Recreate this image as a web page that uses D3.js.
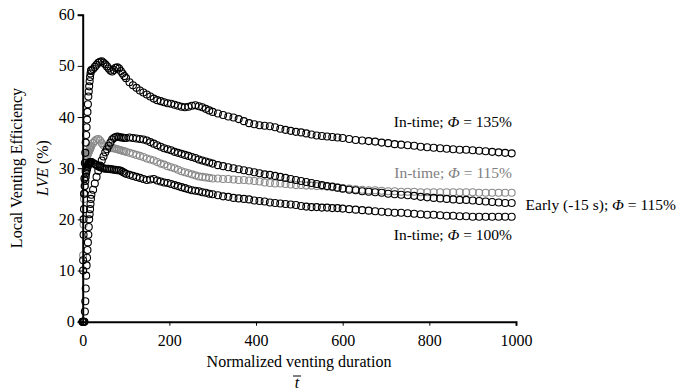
<!DOCTYPE html>
<html>
<head>
<meta charset="utf-8">
<script src="https://cdn.jsdelivr.net/npm/d3@7"></script>
<style>
  body { margin: 0; background: #fff; }
  text { font-family: "Liberation Serif", "Times New Roman", serif; }
</style>
</head>
<body>
<svg id="chart" width="678" height="392"></svg>
<script>
// normalized time of each sample (shared by all series)
const tGrid = [0,1,2,3,4,5,6,7,8,9,10,11,12,13,14,15,16,17,18,19,20,
  24,28,32,36,40,44,48,52,56,60,64,68,72,76,80,84,88,92,96,100,
  108,116,124,132,140,148,156,164,172,180,188,196,204,212,220,228,236,244,252,260,268,276,284,292,300,
  312,324,336,348,360,372,384,396,408,420,432,444,456,468,480,492,504,516,528,540,552,564,576,588,600,
  615,630,645,660,675,690,705,720,735,750,765,780,795,810,825,840,855,870,885,900,915,930,945,960,975,990];

// LVE (%) values
const lve135 = [0,12,20,25,28,31,33,35,36.5,38,39.5,41,42.5,44,45,46,47,47.8,48.5,49,49.2,
  49.4,49.8,50.2,50.6,50.8,50.9,50.6,50.3,49.9,49.5,49.1,48.9,49.2,49.6,49.7,49.5,49.0,48.5,48.0,47.6,
  46.8,46.2,45.7,45.2,44.8,44.4,44.0,43.6,43.3,43.1,42.9,42.7,42.6,42.4,42.2,42.0,41.9,42.0,42.2,42.3,42.1,41.9,41.6,41.3,41.0,
  40.7,40.4,40.1,39.9,39.6,39.2,38.8,38.6,38.4,38.3,38.2,38.0,37.7,37.5,37.3,37.1,37.0,36.8,36.6,36.4,36.3,36.2,36.1,36.0,35.9,
  35.7,35.5,35.4,35.3,35.2,35.0,34.9,34.7,34.6,34.5,34.4,34.2,34.1,34.0,33.9,33.8,33.7,33.6,33.6,33.5,33.4,33.3,33.2,33.1,33.0,32.9];

const lve115 = [0,13,19,24,26.5,28,29.5,30.5,31.3,31.8,32.2,32.5,32.8,33.0,33.2,33.4,33.6,33.8,34.0,34.2,34.4,
  34.9,35.3,35.6,35.7,35.4,34.9,34.5,34.3,34.2,34.1,34.0,33.9,33.9,33.8,33.7,33.6,33.5,33.4,33.3,33.2,
  33.0,32.8,32.6,32.4,32.2,31.9,31.7,31.5,31.2,30.9,30.7,30.4,30.2,30.0,29.7,29.4,29.2,29.0,28.8,28.6,28.4,28.3,28.2,28.1,28.0,
  28.0,27.9,27.9,27.8,27.7,27.7,27.6,27.5,27.4,27.2,27.1,27.0,27.0,26.9,26.8,26.7,26.7,26.6,26.6,26.5,26.5,26.4,26.3,26.2,26.1,
  26.0,25.9,25.8,25.7,25.7,25.6,25.5,25.5,25.4,25.4,25.4,25.3,25.3,25.3,25.3,25.3,25.3,25.3,25.3,25.3,25.2,25.2,25.2,25.2,25.2,25.2];

const lve100 = [0,10,17,22,25,26.5,27.5,28.3,29,29.5,29.9,30.2,30.5,30.7,30.9,31.0,31.1,31.2,31.2,31.2,31.2,
  31.0,30.8,30.6,30.4,30.2,30.1,30.0,29.9,29.9,29.9,29.8,29.8,29.7,29.7,29.6,29.6,29.5,29.3,29.1,28.9,
  28.7,28.5,28.3,28.1,27.9,27.7,27.8,27.9,27.6,27.4,27.2,27.1,26.9,26.7,26.5,26.3,26.1,25.9,25.7,25.6,25.5,25.3,25.2,25.0,24.9,
  24.7,24.5,24.4,24.2,24.1,24.0,23.9,23.7,23.6,23.5,23.3,23.2,23.1,23.0,22.9,22.8,22.6,22.5,22.4,22.4,22.3,22.3,22.2,22.2,22.1,
  22.0,21.9,21.8,21.7,21.6,21.5,21.4,21.3,21.3,21.2,21.1,21.0,20.9,20.9,20.8,20.7,20.7,20.6,20.6,20.5,20.5,20.5,20.5,20.5,20.5,20.5];

const lveEarly = [0,0,0,0,0,2,4,6.5,9,11,12.5,14,15.5,17,18.5,20,21,22,23,24,24.8,
  25.8,27,28.3,29.5,30.5,31.5,32.3,33.1,33.7,34.4,35.0,35.6,35.9,36.1,36.2,36.1,36.0,36.0,35.9,35.9,
  36.0,35.9,35.8,35.7,35.6,35.4,35.1,34.8,34.5,34.2,33.9,33.7,33.5,33.2,33.0,32.8,32.6,32.4,32.2,32.0,31.7,31.5,31.3,31.1,30.9,
  30.6,30.4,30.2,30.0,29.8,29.6,29.4,29.2,29.0,28.8,28.7,28.5,28.3,28.1,27.9,27.7,27.5,27.3,27.1,26.9,26.7,26.5,26.4,26.2,26.0,
  25.8,25.7,25.5,25.4,25.3,25.2,25.0,24.9,24.8,24.7,24.6,24.4,24.3,24.2,24.1,24.0,23.9,23.8,23.8,23.7,23.6,23.5,23.4,23.3,23.2,23.2];

const xTicks = [0, 200, 400, 600, 800, 1000];
const yTicks = [0, 10, 20, 30, 40, 50, 60];

const svg = d3.select("#chart");
const x = d3.scaleLinear().domain([0, 1000]).range([82.7, 516]);
const y = d3.scaleLinear().domain([0, 60]).range([321.7, 14.7]);

// series drawn back to front
const series = [
  { values: lve115, color: "#8a8a8a" },
  { values: lve100, color: "#000" },
  { values: lveEarly, color: "#000" },
  { values: lve135, color: "#000" }
];

series.forEach(s => {
  svg.append("g")
    .selectAll("circle")
    .data(tGrid.map((t, i) => [t, s.values[i]]))
    .enter()
    .append("circle")
    .attr("cx", d => x(d[0]))
    .attr("cy", d => y(d[1]))
    .attr("r", 3.5)
    .attr("fill", "none")
    .attr("stroke", s.color)
    .attr("stroke-width", 1.1);
});

// axes
const xAxis = svg.append("g")
  .attr("transform", "translate(0," + y(0) + ")")
  .call(d3.axisBottom(x).tickValues(xTicks).tickFormat(d3.format("d"))
    .tickSizeOuter(0).tickSize(4).tickPadding(9));
const yAxis = svg.append("g")
  .attr("transform", "translate(" + x(0) + ",0)")
  .call(d3.axisLeft(y).tickValues(yTicks).tickFormat(d3.format("d"))
    .tickSizeOuter(0).tickSize(5).tickPadding(3));

[xAxis, yAxis].forEach(a => {
  a.select(".domain").attr("stroke", "#000").attr("stroke-width", 2);
  a.selectAll(".tick line").attr("stroke", "#000").attr("stroke-width", 1);
  a.selectAll(".tick text")
    .attr("fill", "#000")
    .style("font-family", "'Liberation Serif', serif")
    .style("font-size", "16px");
});

// axis titles
svg.append("text")
  .attr("transform", "translate(22,168) rotate(-90)")
  .attr("text-anchor", "middle")
  .style("font-size", "16px")
  .text("Local Venting Efficiency");

const lveTitle = svg.append("text")
  .attr("transform", "translate(48,168) rotate(-90)")
  .attr("text-anchor", "middle")
  .style("font-size", "16px");
lveTitle.append("tspan").style("font-style", "italic").text("LVE");
lveTitle.append("tspan").text(" (%)");

svg.append("text")
  .attr("x", 299).attr("y", 367)
  .attr("text-anchor", "middle")
  .style("font-size", "16px")
  .text("Normalized venting duration");

svg.append("text")
  .attr("x", 297).attr("y", 388)
  .attr("text-anchor", "middle")
  .style("font-size", "16px")
  .style("font-style", "italic")
  .text("t");
svg.append("line")
  .attr("x1", 293).attr("x2", 301)
  .attr("y1", 376).attr("y2", 376)
  .attr("stroke", "#000").attr("stroke-width", 1);

// series labels
const labels = [
  { pre: "In-time; ", val: " = 135%", x: 512, y: 127, anchor: "end", color: "#000" },
  { pre: "In-time; ", val: " = 115%", x: 512, y: 178, anchor: "end", color: "#808080" },
  { pre: "Early (-15 s); ", val: " = 115%", x: 676, y: 210, anchor: "end", color: "#000" },
  { pre: "In-time; ", val: " = 100%", x: 512, y: 240, anchor: "end", color: "#000" }
];
labels.forEach(l => {
  const t = svg.append("text")
    .attr("x", l.x).attr("y", l.y)
    .attr("text-anchor", l.anchor)
    .attr("fill", l.color)
    .style("font-size", "15.5px");
  t.append("tspan").text(l.pre);
  t.append("tspan").style("font-style", "italic").text("Φ");
  t.append("tspan").text(l.val);
});
</script>
</body>
</html>
